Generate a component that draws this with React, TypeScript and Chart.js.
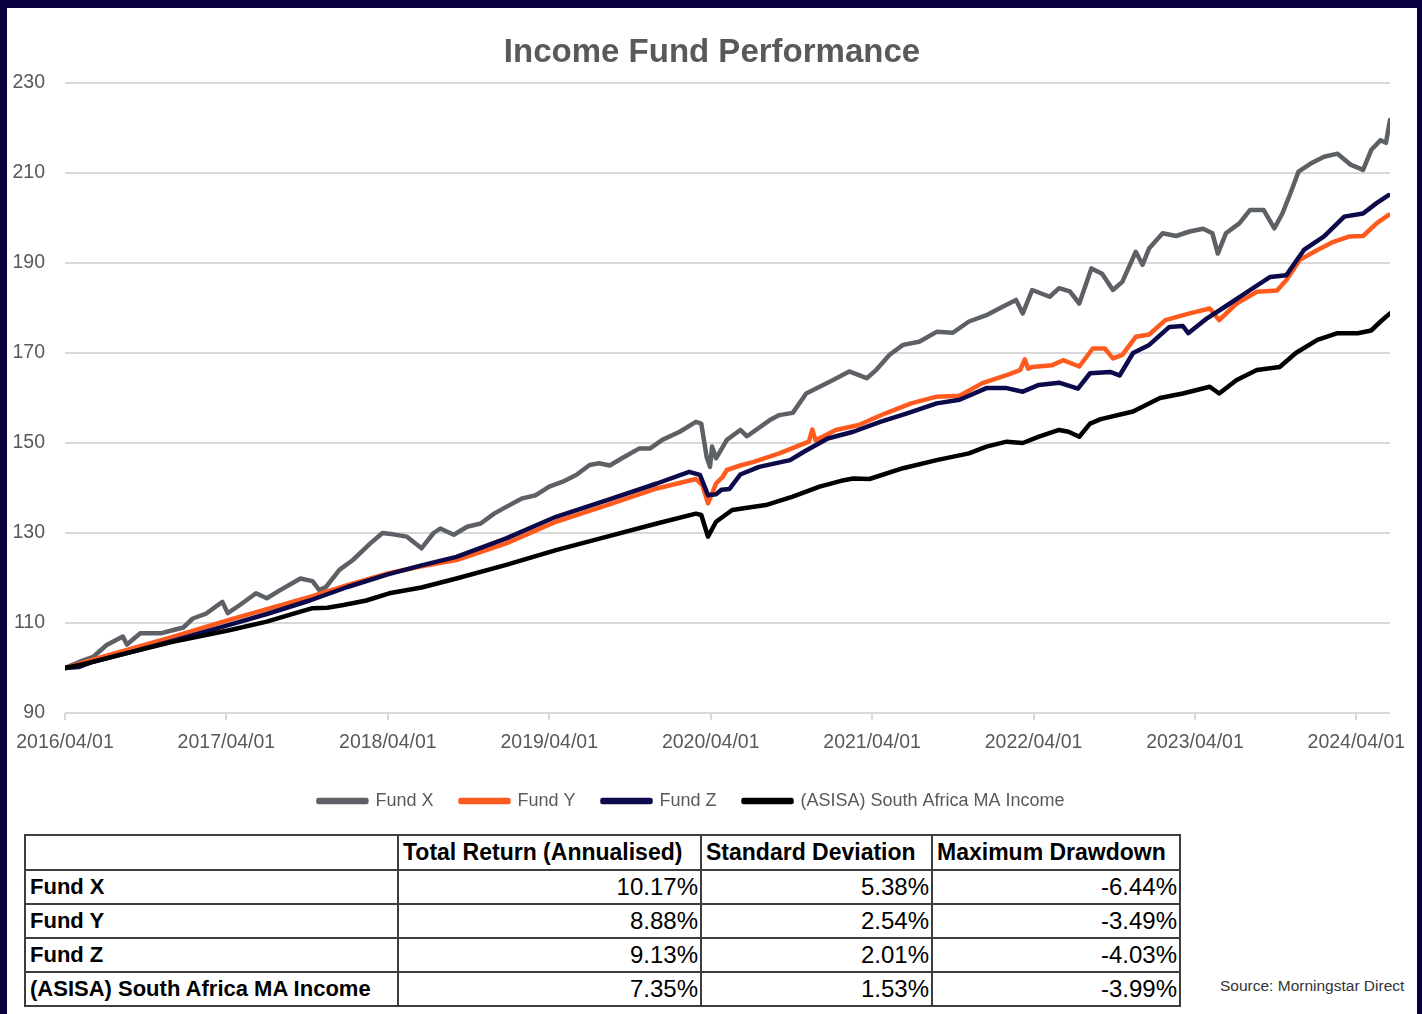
import React, { useEffect, useRef } from "react";
import { Chart, registerables } from "chart.js";

Chart.register(...registerables);

// ---------- data ----------
const chartTitle = "Income Fund Performance";
const seriesNames = ["Fund X", "Fund Y", "Fund Z", "(ASISA) South Africa MA Income"];
const seriesColors = ["#5d6166", "#ff5b1f", "#0c0a4a", "#000000"];

const tickMonths = [0, 12, 24, 36, 48, 60, 72, 84, 96];
const tickLabels = ["2016/04/01", "2017/04/01", "2018/04/01", "2019/04/01", "2020/04/01", "2021/04/01", "2022/04/01", "2023/04/01", "2024/04/01"];
const yTicks = [90, 110, 130, 150, 170, 190, 210, 230];

// months since 2016/04/01
const fundXMonths = [0, 1.1, 2.1, 3.1, 4.3, 4.6, 5.6, 7.1, 8, 8.8, 9.5, 10.5, 11.7, 12.1, 13, 14.2, 15, 16, 17.5, 18.4, 18.9, 19.4, 20.4, 21.4, 22.7, 23.6, 24.4, 25.4, 26.5, 27.4, 27.9, 28.9, 29.9, 30.9, 31.9, 32.8, 34, 35, 36, 37, 38, 39, 39.7, 40.5, 41.4, 42.7, 43.5, 44.4, 45.7, 46.9, 47.3, 47.7, 47.95, 48.1, 48.4, 49.2, 50.2, 50.7, 52.4, 53.1, 54.1, 55.1, 56.1, 57.1, 58.3, 59.6, 60.3, 61.3, 62.3, 63.5, 64.8, 66, 67.2, 68.5, 69.7, 70.7, 71.2, 71.9, 73.2, 73.9, 74.7, 75.4, 76.3, 77.1, 77.9, 78.6, 79.6, 80.1, 80.6, 81.6, 82.6, 83.6, 84.6, 85.3, 85.7, 86.3, 87.3, 88.1, 89.1, 89.9, 90.5, 91.1, 91.7, 92.6, 93.6, 94.6, 95.6, 96.5, 97.1, 97.8, 98.2, 98.5];
const fundXValues = [100, 101.4, 102.5, 105.1, 107, 105.2, 107.7, 107.7, 108.4, 109, 111, 112.1, 114.7, 112.2, 114, 116.6, 115.5, 117.3, 119.9, 119.3, 117.3, 118, 121.8, 124, 127.7, 130, 129.7, 129.2, 126.6, 130, 131, 129.6, 131.4, 132.1, 134.3, 135.8, 137.7, 138.4, 140.3, 141.4, 142.9, 145.1, 145.5, 145, 146.6, 148.8, 148.8, 150.7, 152.5, 154.7, 154.3, 146.9, 144.7, 149.2, 146.6, 150.7, 152.9, 151.5, 155.1, 156.2, 156.7, 161, 162.5, 164, 165.9, 164.4, 166.2, 169.6, 171.8, 172.5, 174.7, 174.5, 177, 178.4, 180.3, 181.8, 178.8, 184, 182.5, 184.4, 183.7, 181, 188.8, 187.6, 184, 185.8, 192.5, 189.6, 193.3, 196.6, 196, 197, 197.6, 196.6, 192.1, 196.6, 198.8, 201.8, 201.8, 197.7, 201, 205.5, 210.3, 212.1, 213.6, 214.3, 211.8, 210.7, 215.1, 217.3, 216.7, 221.8];

const fundYMonths = [0, 2, 4.6, 8, 12.2, 15, 18.2, 21, 24, 26.5, 29.1, 32.8, 36.5, 40.3, 44, 46.9, 47.4, 47.8, 48.4, 48.9, 49.2, 50.2, 51.2, 53.1, 55.3, 55.55, 55.8, 57.3, 59, 61, 62.9, 64.8, 66.5, 68.2, 70, 71, 71.35, 71.6, 71.9, 73.4, 74.2, 75.4, 76.4, 77.3, 77.9, 78.6, 79.6, 80.6, 81.8, 83.6, 85.1, 85.8, 87.1, 88.6, 90.1, 90.8, 91.8, 93.1, 94.3, 95.5, 96.5, 97.5, 98.4];
const fundYValues = [100, 101.8, 104, 106.9, 110.7, 113.1, 115.8, 118.4, 121, 122.6, 124, 127.7, 132.5, 136.2, 139.9, 142, 140.5, 136.6, 141, 142.5, 144, 145, 145.8, 147.7, 150.3, 153, 150.6, 152.9, 154, 156.6, 158.8, 160.3, 160.5, 163.3, 165.1, 166.2, 168.6, 166.5, 166.9, 167.3, 168.4, 167, 171, 171, 168.8, 169.6, 173.6, 174.1, 177.3, 178.8, 179.9, 177.3, 181, 183.6, 183.9, 186.2, 190.7, 192.9, 194.7, 195.9, 196, 198.8, 200.7];

const fundZMonths = [0, 1, 2, 4.6, 8, 12.2, 15, 18.2, 21, 24, 26.5, 29.1, 32.8, 36.5, 40.3, 44, 46.4, 47.2, 47.8, 48.4, 48.8, 49.4, 50.2, 51.6, 53.9, 54.9, 56.7, 58.6, 60.6, 62.6, 64.8, 66.5, 68.5, 70, 71.2, 72.4, 73.9, 75.3, 76.2, 77.7, 78.4, 79.4, 80.6, 82.1, 83.1, 83.5, 84.9, 86.6, 88.1, 89.6, 90.8, 92.1, 93.6, 95.1, 96.5, 97.5, 98.4];
const fundZValues = [100, 100.2, 101.3, 103.3, 106, 109.6, 112, 115, 118, 120.8, 122.8, 124.7, 128.8, 133.6, 137.3, 141, 143.6, 142.9, 138.4, 138.6, 139.6, 139.8, 143, 144.7, 146.2, 148, 151, 152.5, 154.7, 156.6, 158.8, 159.6, 162.2, 162.2, 161.4, 162.9, 163.4, 162.1, 165.5, 165.8, 165, 170, 171.8, 175.8, 176, 174.4, 177.7, 181, 184, 186.9, 187.3, 192.9, 195.9, 200.3, 201, 203.3, 205.1];

const benchmarkMonths = [0, 2, 4.6, 8, 12.2, 15, 17, 18.4, 19.5, 20.7, 22.4, 24.1, 26.5, 29.1, 32.8, 36.5, 40.3, 44, 46.9, 47.3, 47.8, 48.4, 49.6, 52.1, 54.1, 56.1, 57.7, 58.6, 59.8, 62.3, 64.8, 67.2, 68.5, 70, 71.2, 72.4, 73.9, 74.6, 75.4, 76.2, 77, 79.4, 81.4, 83.1, 85.1, 85.8, 87.1, 88.6, 90.3, 91.5, 93.1, 94.6, 96.1, 97.1, 97.8, 98.5];
const benchmarkValues = [100, 101.3, 103.3, 105.8, 108.4, 110.3, 112.1, 113.3, 113.4, 114, 115, 116.6, 117.9, 119.9, 122.9, 126.2, 129.2, 132.1, 134.3, 134, 129.2, 132.5, 135.1, 136.2, 138.1, 140.3, 141.6, 142.1, 142, 144.4, 146.2, 147.7, 149.2, 150.3, 150, 151.4, 152.9, 152.5, 151.4, 154.3, 155.3, 157, 160, 161, 162.5, 161, 164, 166.2, 166.9, 170, 172.9, 174.4, 174.4, 175, 177, 178.8];

// table
const tableHeaders = ["", "Total Return (Annualised)", "Standard Deviation", "Maximum Drawdown"];
const totalReturn = ["10.17%", "8.88%", "9.13%", "7.35%"];
const standardDeviation = ["5.38%", "2.54%", "2.01%", "1.53%"];
const maximumDrawdown = ["-6.44%", "-3.49%", "-4.03%", "-3.99%"];
const sourceNote = "Source: Morningstar Direct";

// ---------- styles ----------
const FONT = "'Liberation Sans', Arial, sans-serif";
const TEXT_GREY = "#595959";
const GRID = "#d9d9d9";

const toPoints = (xs: number[], ys: number[]) => xs.map((x, i) => ({ x, y: ys[i] }));

function PerformanceChart() {
  const ref = useRef<HTMLCanvasElement | null>(null);
  useEffect(() => {
    if (!ref.current) return;
    const seriesData = [
      toPoints(fundXMonths, fundXValues),
      toPoints(fundYMonths, fundYValues),
      toPoints(fundZMonths, fundZValues),
      toPoints(benchmarkMonths, benchmarkValues),
    ];
    const chart = new Chart(ref.current, {
      type: "line",
      data: {
        datasets: seriesNames.map((name, i) => ({
          label: name,
          data: seriesData[i],
          borderColor: seriesColors[i],
          backgroundColor: seriesColors[i],
          borderWidth: 4.5,
          pointRadius: 0,
          borderCapStyle: "round",
          borderJoinStyle: "round",
          tension: 0,
          fill: false,
          order: seriesNames.length - i,
        })),
      },
      options: {
        responsive: false,
        animation: false,
        events: [],
        layout: { padding: { top: 0, right: 27, bottom: 3, left: 0 } },
        plugins: {
          title: {
            display: true,
            text: chartTitle,
            color: TEXT_GREY,
            font: { family: FONT, size: 33, weight: "bold", lineHeight: 1.2 },
            padding: { top: 25, bottom: 10.4 },
          },
          legend: {
            display: true,
            position: "bottom",
            labels: {
              boxWidth: 48,
              boxHeight: 2,
              padding: 27,
              color: TEXT_GREY,
              font: { family: FONT, size: 18 },
              sort: (a: any, b: any) => a.datasetIndex - b.datasetIndex,
            },
          },
          tooltip: { enabled: false },
        },
        scales: {
          x: {
            type: "linear",
            min: 0,
            max: 98.5,
            afterBuildTicks: (s: any) => {
              s.ticks = tickMonths.map((v) => ({ value: v }));
            },
            afterFit: (s: any) => {
              s.height = 52;
              s.paddingLeft = 0;
              s.paddingRight = 0;
            },
            grid: { drawOnChartArea: false, drawTicks: true, tickLength: 7, color: GRID, lineWidth: 2 },
            border: { display: false },
            ticks: {
              autoSkip: false,
              maxRotation: 0,
              padding: 11,
              color: TEXT_GREY,
              font: { family: FONT, size: 19.5 },
              callback: (v: any) => {
                const idx = tickMonths.indexOf(Number(v));
                return idx >= 0 ? tickLabels[idx] : "";
              },
            },
          },
          y: {
            min: 90,
            max: 230,
            afterBuildTicks: (s: any) => {
              s.ticks = yTicks.map((v) => ({ value: v }));
            },
            afterFit: (s: any) => {
              s.width = 58;
              s.paddingTop = 0;
              s.paddingBottom = 0;
            },
            grid: { color: GRID, lineWidth: 2, drawTicks: false },
            border: { display: false },
            ticks: { padding: 20, color: TEXT_GREY, font: { family: FONT, size: 19.5 } },
          },
        },
      },
      plugins: [
        {
          id: "blockShift",
          afterLayout(c: any) {
            const lg = c.legend;
            if (lg) {
              lg.left -= 7;
              lg.right -= 7;
            }
            const tb = c.titleBlock;
            if (tb) {
              tb.right += 27;
            }
          },
        },
      ],
    } as any);
    return () => chart.destroy();
  }, []);
  return <canvas ref={ref} width={1410} height={815} style={{ width: 1410, height: 815, display: "block" }} />;
}

const cellBase: React.CSSProperties = {
  border: "2px solid #3d3d3d",
  padding: "0 4px",
  height: 32,
  fontFamily: FONT,
  color: "#000",
  whiteSpace: "nowrap",
  overflow: "hidden",
};

export default function App() {
  const rows = seriesNames.map((n, i) => [n, totalReturn[i], standardDeviation[i], maximumDrawdown[i]]);
  return (
    <div style={{ position: "absolute", left: 0, top: 0, width: 1422, height: 1014, background: "#08003f", overflow: "hidden" }}>
      <div style={{ position: "absolute", left: 7, top: 8, width: 1410, height: 1006, background: "#ffffff" }}>
        <PerformanceChart />
        <table
          style={{
            position: "absolute",
            left: 17,
            top: 826,
            width: 1155,
            borderCollapse: "collapse",
            tableLayout: "fixed",
          }}
        >
          <colgroup>
            <col style={{ width: 373 }} />
            <col style={{ width: 303 }} />
            <col style={{ width: 231 }} />
            <col style={{ width: 248 }} />
          </colgroup>
          <thead>
            <tr>
              {tableHeaders.map((h, i) => (
                <th key={i} style={{ ...cellBase, height: 33, textAlign: "left", fontWeight: "bold", fontSize: 23 }}>
                  {h}
                </th>
              ))}
            </tr>
          </thead>
          <tbody>
            {rows.map((r, ri) => (
              <tr key={ri}>
                {r.map((c, ci) => (
                  <td
                    key={ci}
                    style={{
                      ...cellBase,
                      textAlign: ci === 0 ? "left" : "right",
                      fontWeight: ci === 0 ? "bold" : "normal",
                      fontSize: ci === 0 ? 22 : 24,
                      paddingRight: ci === 0 ? 4 : 2,
                    }}
                  >
                    {c}
                  </td>
                ))}
              </tr>
            ))}
          </tbody>
        </table>
        <div
          style={{
            position: "absolute",
            left: 1213,
            top: 968,
            fontFamily: FONT,
            fontSize: 15.5,
            lineHeight: "20px",
            color: "#333333",
            whiteSpace: "nowrap",
          }}
        >
          {sourceNote}
        </div>
      </div>
    </div>
  );
}
